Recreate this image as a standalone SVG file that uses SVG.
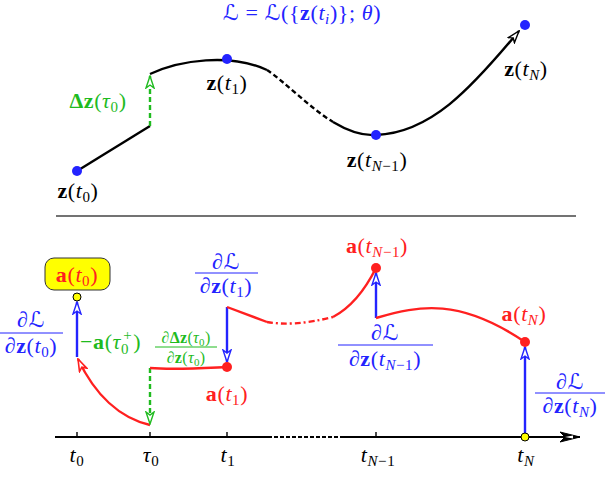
<svg xmlns="http://www.w3.org/2000/svg" width="606" height="478" viewBox="0 0 606 478">
<style>
text{font-family:"Liberation Serif","DejaVu Serif",serif;font-size:22px;letter-spacing:0.6px}
.b{font-weight:bold}
.i{font-style:italic}
.s{font-size:15px}
.ss{font-size:11px}
.sm{font-size:16px;letter-spacing:0.3px}
.blk{fill:#000}
.blu{fill:#2323ff}
.red{fill:#ff2020}
.grn{fill:#1fbb1f}
.c{text-anchor:middle}
.L{font-family:"DejaVu Serif","DejaVu Sans",serif;font-style:italic}
.ln{fill:none;stroke-width:2.4}
</style>
<defs>
<marker id="ak" viewBox="0 0 14 10" refX="13" refY="5" markerWidth="14" markerHeight="10" markerUnits="userSpaceOnUse" orient="auto">
<path d="M1,1 L13,5 L1,9 L4,5 Z" fill="#fff" stroke="#000" stroke-width="1.4"/></marker>
<marker id="akf" viewBox="0 0 22 12" refX="21" refY="6" markerWidth="22" markerHeight="12" markerUnits="userSpaceOnUse" orient="auto">
<path d="M1,1 L21,6 L1,11 L6,6 Z" fill="#000" stroke="#000" stroke-width="1"/><path d="M6,6 L14,4.5 L14,7.5 Z" fill="#fff"/></marker>
<marker id="ab" viewBox="0 0 14 10" refX="13" refY="5" markerWidth="14" markerHeight="10" markerUnits="userSpaceOnUse" orient="auto">
<path d="M1,1 L13,5 L1,9 L4,5 Z" fill="#fff" stroke="#2323ff" stroke-width="1.4"/></marker>
<marker id="ag" viewBox="0 0 14 10" refX="13" refY="5" markerWidth="14" markerHeight="10" markerUnits="userSpaceOnUse" orient="auto">
<path d="M1,1 L13,5 L1,9 L4,5 Z" fill="#fff" stroke="#1fbb1f" stroke-width="1.4"/></marker>
<marker id="ar" viewBox="0 0 14 10" refX="13" refY="5" markerWidth="14" markerHeight="10" markerUnits="userSpaceOnUse" orient="auto">
<path d="M1,1 L13,5 L1,9 L4,5 Z" fill="#fff" stroke="#ff2020" stroke-width="1.6"/></marker>
</defs>
<rect width="606" height="478" fill="#fff"/>

<g id="connectors">
<path class="ln" stroke="#000" d="M77,171 L150,126"/>
<path class="ln" stroke="#1fbb1f" stroke-dasharray="5,3" d="M150,126 L150,76" marker-end="url(#ag)"/>
<path class="ln" stroke="#000" d="M150,74 C180,60 230,53 267,70"/>
<path class="ln" stroke="#000" stroke-dasharray="5,3" d="M267,70 C285,82 310,108 333,122"/>
<path class="ln" stroke="#000" d="M333,122 C348,131 362,136 376,135 C430,133 470,90 519,31" marker-end="url(#ak)"/>
<line x1="56" y1="216" x2="576" y2="216" stroke="#444" stroke-width="1.4"/>
<path fill="none" stroke="#000" stroke-width="1.8" d="M55,437 L268,437"/>
<path fill="none" stroke="#000" stroke-width="1.8" stroke-dasharray="4,2" d="M268,437 L340,437"/>
<path fill="none" stroke="#000" stroke-width="1.8" d="M340,437 L580,437" marker-end="url(#akf)"/>
<path stroke="#000" stroke-width="1.4" d="M77,437 V432 M150,437 V432 M227,437 V432 M376,437 V432 M525,437 V432"/>
<path class="ln" stroke="#2323ff" d="M77,357 L77,302" marker-end="url(#ab)"/>
<path class="ln" stroke="#ff2020" d="M150,425 C120,418 95,395 78,359" marker-end="url(#ar)"/>
<path class="ln" stroke="#1fbb1f" stroke-dasharray="5,3" d="M150,368 L150,424" marker-end="url(#ag)"/>
<path class="ln" stroke="#ff2020" d="M150,368 C175,370 205,368 227,367"/>
<path class="ln" stroke="#2323ff" d="M227,307 L227,362" marker-end="url(#ab)"/>
<path class="ln" stroke="#ff2020" d="M227,307 L267,322"/>
<path class="ln" stroke="#ff2020" stroke-dasharray="6,3,2,3" d="M267,322 C285,325 305,324 333,317"/>
<path class="ln" stroke="#ff2020" d="M333,317 C350,308 365,290 376,268"/>
<path class="ln" stroke="#2323ff" d="M376,318 L376,273" marker-end="url(#ab)"/>
<path class="ln" stroke="#ff2020" d="M376,318 C420,305 460,298 525,342"/>
<path class="ln" stroke="#2323ff" d="M525,437 L525,347" marker-end="url(#ab)"/>
</g>

<g id="loss"><text class="c blu" x="302" y="20" font-size="23"><tspan class="L">ℒ</tspan> = <tspan class="L">ℒ</tspan>({<tspan class="b">z</tspan>(<tspan class="i">t</tspan><tspan class="s i" dy="4">i</tspan><tspan dy="-4">)};</tspan> <tspan class="i">θ</tspan>)</text></g>

<g id="z-t0"><circle cx="77" cy="171" r="5" fill="#2323ff"/>
<text class="c blk" x="78" y="198"><tspan class="b">z</tspan>(<tspan class="i">t</tspan><tspan class="s" dy="4">0</tspan><tspan dy="-4">)</tspan></text></g>
<g id="dz-tau0"><text class="c grn" x="98" y="108"><tspan class="b">Δz</tspan>(<tspan class="i">τ</tspan><tspan class="s" dy="4">0</tspan><tspan dy="-4">)</tspan></text></g>
<g id="z-t1"><circle cx="227" cy="59" r="5" fill="#2323ff"/>
<text class="c blk" x="227" y="90"><tspan class="b">z</tspan>(<tspan class="i">t</tspan><tspan class="s" dy="4">1</tspan><tspan dy="-4">)</tspan></text></g>
<g id="z-tN1"><circle cx="376" cy="135" r="5" fill="#2323ff"/>
<text class="c blk" x="377" y="167"><tspan class="b">z</tspan>(<tspan class="i">t</tspan><tspan class="s" dy="4"><tspan class="i">N</tspan>−1</tspan><tspan dy="-4">)</tspan></text></g>
<g id="z-tN"><circle cx="525" cy="25" r="5" fill="#2323ff"/>
<text class="c blk" x="526" y="76"><tspan class="b">z</tspan>(<tspan class="i">t</tspan><tspan class="s i" dy="4">N</tspan><tspan dy="-4">)</tspan></text></g>

<g id="a-t0"><rect x="45" y="258" width="65" height="32" rx="9" fill="#ffff00" stroke="#333" stroke-width="1"/>
<text class="c red" x="77" y="282"><tspan class="b">a</tspan>(<tspan class="i">t</tspan><tspan class="s" dy="4">0</tspan><tspan dy="-4">)</tspan></text>
<circle cx="77" cy="297" r="4" fill="#ffff00" stroke="#000" stroke-width="1"/></g>

<g id="dL-t0"><text class="c blu" x="31" y="327">∂<tspan class="L">ℒ</tspan></text>
<line x1="0" y1="333" x2="63" y2="333" stroke="#2323ff" stroke-width="1"/>
<text class="c blu" x="31" y="353">∂<tspan class="b">z</tspan>(<tspan class="i">t</tspan><tspan class="s" dy="4">0</tspan><tspan dy="-4">)</tspan></text></g>

<g id="green-term"><text class="grn" x="80" y="349">−<tspan class="b">a</tspan>(<tspan class="i">τ</tspan><tspan class="s" dy="5">0</tspan><tspan class="s" dx="-6" dy="-14">+</tspan><tspan dx="1" dy="9">)</tspan></text>
<text class="c grn sm" x="186" y="343">∂<tspan class="b">Δz</tspan>(<tspan class="i">τ</tspan><tspan class="ss" dy="3">0</tspan><tspan dy="-3">)</tspan></text>
<line x1="155" y1="347" x2="217" y2="347" stroke="#1fbb1f" stroke-width="1"/>
<text class="c grn sm" x="186" y="363">∂<tspan class="b">z</tspan>(<tspan class="i">τ</tspan><tspan class="ss" dy="3">0</tspan><tspan dy="-3">)</tspan></text></g>

<g id="a-t1"><circle cx="227" cy="367" r="5" fill="#ff2020"/>
<text class="c red" x="227" y="401"><tspan class="b">a</tspan>(<tspan class="i">t</tspan><tspan class="s" dy="4">1</tspan><tspan dy="-4">)</tspan></text></g>
<g id="dL-t1"><text class="c blu" x="226" y="269">∂<tspan class="L">ℒ</tspan></text>
<line x1="195" y1="273" x2="258" y2="273" stroke="#2323ff" stroke-width="1"/>
<text class="c blu" x="226" y="293">∂<tspan class="b">z</tspan>(<tspan class="i">t</tspan><tspan class="s" dy="4">1</tspan><tspan dy="-4">)</tspan></text></g>

<g id="a-tN1"><circle cx="376" cy="268" r="5" fill="#ff2020"/>
<text class="c red" x="377" y="253"><tspan class="b">a</tspan>(<tspan class="i">t</tspan><tspan class="s" dy="4"><tspan class="i">N</tspan>−1</tspan><tspan dy="-4">)</tspan></text></g>
<g id="dL-tN1"><text class="c blu" x="385" y="340">∂<tspan class="L">ℒ</tspan></text>
<line x1="338" y1="345" x2="433" y2="345" stroke="#2323ff" stroke-width="1"/>
<text class="c blu" x="385" y="366">∂<tspan class="b">z</tspan>(<tspan class="i">t</tspan><tspan class="s" dy="4"><tspan class="i">N</tspan>−1</tspan><tspan dy="-4">)</tspan></text></g>

<g id="a-tN"><circle cx="525" cy="342" r="5" fill="#ff2020"/>
<text class="c red" x="524" y="321"><tspan class="b">a</tspan>(<tspan class="i">t</tspan><tspan class="s i" dy="4">N</tspan><tspan dy="-4">)</tspan></text>
<circle cx="525" cy="437" r="4" fill="#ffff00" stroke="#000" stroke-width="1"/></g>
<g id="dL-tN"><text class="c blu" x="570" y="389">∂<tspan class="L">ℒ</tspan></text>
<line x1="535" y1="393" x2="605" y2="393" stroke="#2323ff" stroke-width="1"/>
<text class="c blu" x="570" y="413">∂<tspan class="b">z</tspan>(<tspan class="i">t</tspan><tspan class="s i" dy="4">N</tspan><tspan dy="-4">)</tspan></text></g>

<g id="ticks-labels">
<text class="c blk i" x="77" y="462">t<tspan class="s" font-style="normal" dy="4">0</tspan></text>
<text class="c blk i" x="151" y="462">τ<tspan class="s" font-style="normal" dy="4">0</tspan></text>
<text class="c blk i" x="228" y="462">t<tspan class="s" font-style="normal" dy="4">1</tspan></text>
<text class="c blk i" x="378" y="462">t<tspan class="s" dy="4">N<tspan font-style="normal">−1</tspan></tspan></text>
<text class="c blk i" x="526" y="462">t<tspan class="s" dy="4">N</tspan></text>
</g>
</svg>
